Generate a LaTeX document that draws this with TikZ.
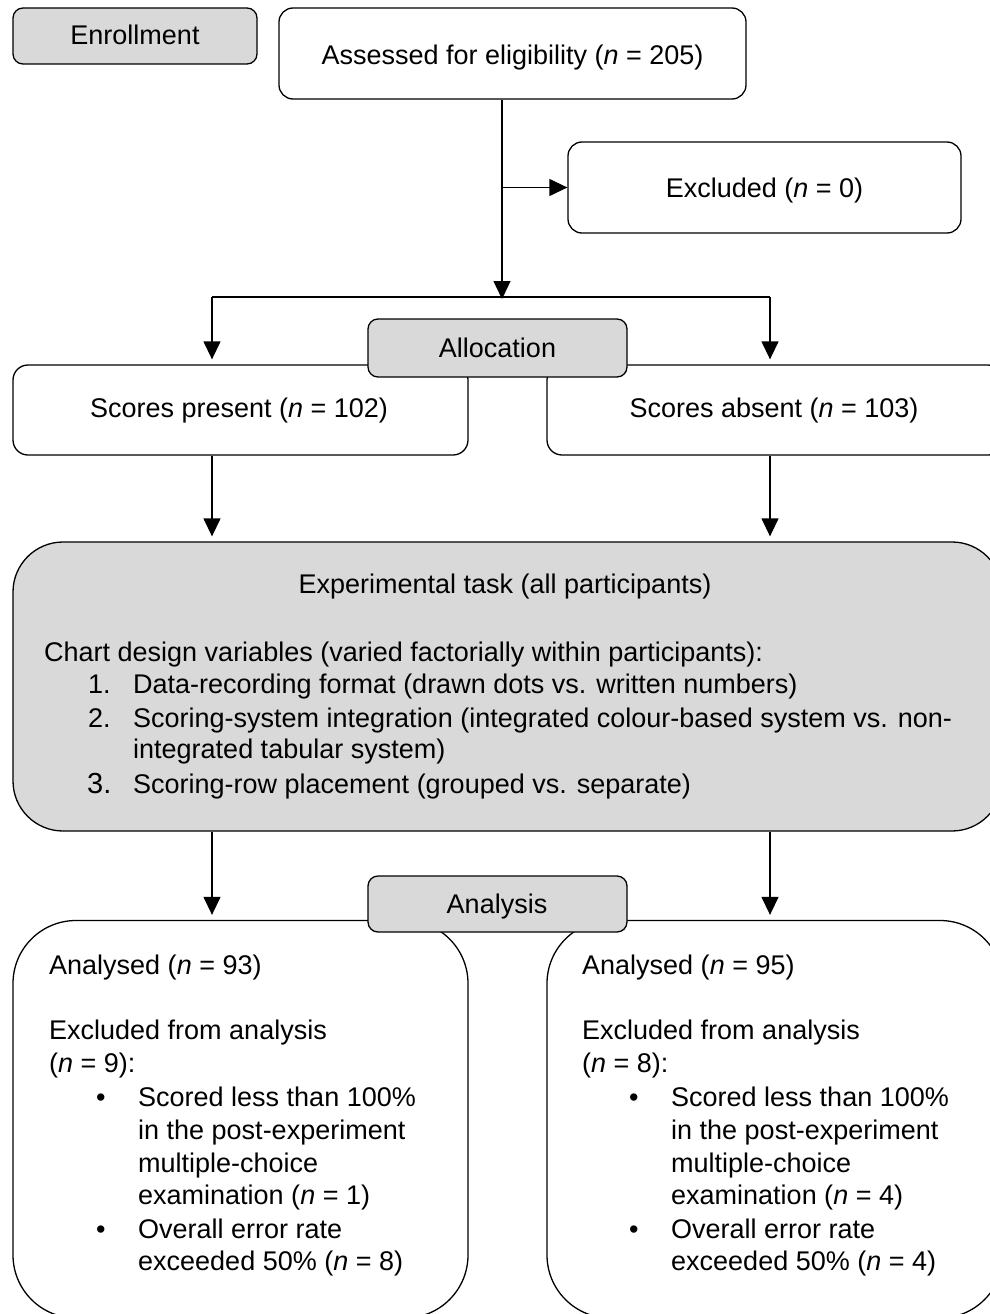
\documentclass[tikz,border=0pt]{standalone}
\usepackage{fontspec}
\setmainfont{Liberation Sans}
\usetikzlibrary{arrows.meta}
\definecolor{boxgray}{HTML}{D9D9D9}
\newcommand{\nvar}{\textit{n}}
\tikzset{
  box/.style={draw=black, line width=1.3pt, rounded corners=#1, inner sep=0pt, fill=white},
  graybox/.style={box=#1, fill=boxgray},
  txt/.style={font=\fontsize{27}{32}\selectfont, inner sep=0pt, anchor=base},
  ltxt/.style={txt, anchor=base west},
  conn/.style={line width=1.3pt},
  arr/.style={conn, -{Triangle[length=18pt,width=17pt]}},
  arrgap/.style={arr, shorten >=5pt}
}
\begin{document}
\begin{tikzpicture}[x=1pt,y=-1pt]
\clip (0,0) rectangle (990,1314);
% boxes
\node[graybox=10pt, minimum width=244pt, minimum height=56pt] (enroll) at (135,36) {};
\node[box=14pt, minimum width=467pt, minimum height=91pt] (assess) at (512.5,53.5) {};
\node[box=14pt, minimum width=393pt, minimum height=91pt] (excl) at (764.5,187.5) {};
\node[box=15pt, minimum width=455pt, minimum height=90pt] (present) at (240.5,410) {};
\node[box=15pt, minimum width=456pt, minimum height=90pt] (absent) at (775,410) {};
\node[graybox=10pt, minimum width=259pt, minimum height=58pt] (alloc) at (497.5,348) {};
\node[graybox=50pt, minimum width=989pt, minimum height=289pt] (task) at (507.5,686.5) {};
\node[box=63pt, minimum width=455pt, minimum height=397.5pt] (lbox) at (240.5,1119.25) {};
\node[box=63pt, minimum width=456pt, minimum height=397.5pt] (rbox) at (775,1119.25) {};
\node[graybox=10pt, minimum width=259pt, minimum height=56pt] (analysis) at (497.5,904) {};
% coordinates for connectors
\coordinate (hub) at (502,297);
\coordinate (lb) at (212,297);
\coordinate (rb) at (770,297);
\coordinate (exbr) at (502,187.5);
% connectors
\draw[arr] (assess.south -| hub) -- ([yshift=-2pt]hub);
\draw[arr] (exbr) -- (excl.west);
\draw[conn] (lb) -- (rb);
\draw[arrgap] (lb) -- (present.north -| lb);
\draw[arrgap] (rb) -- (absent.north -| rb);
\draw[arrgap] (present.south -| lb) -- (task.north -| lb);
\draw[arrgap] (absent.south -| rb) -- (task.north -| rb);
\draw[arrgap] (task.south -| lb) -- (lbox.north -| lb);
\draw[arrgap] (task.south -| rb) -- (rbox.north -| rb);
% texts
\node[txt] (t-enroll) at (135,45) {Enrollment};
\node[txt] (t-assess) at (512.5,65) {Assessed for eligibility (\nvar{} = 205)};
\node[txt] (t-excl) at (764.5,197) {Excluded (\nvar{} = 0)};
\node[txt] (t-alloc) at (497.5,357) {Allocation};
\node[txt] (t-present) at (239,417) {Scores present (\nvar{} = 102)};
\node[txt] (t-absent) at (774,417) {Scores absent (\nvar{} = 103)};
\node[txt] (t-task) at (505,593) {Experimental task (all participants)};
\node[ltxt] (t-chart) at (44,661) {Chart design variables (varied factorially within participants):};
\node[ltxt] (t-n1) at (88,693) {1.};
\node[ltxt] (t-i1) at (133,693) {Data-recording format (drawn dots vs. written numbers)};
\node[ltxt] (t-n2) at (88,727) {2.};
\node[ltxt] (t-i2) at (133,727) {Scoring-system integration (integrated colour-based system vs. non-};
\node[ltxt] (t-i2b) at (133,758) {integrated tabular system)};
\node[ltxt, font=\fontsize{29}{32}\selectfont] (t-n3) at (87,793) {3.};
\node[ltxt] (t-i3) at (133,793) {Scoring-row placement (grouped vs. separate)};
\node[txt] (t-analysis) at (497,913) {Analysis};
% left bottom texts
\node[ltxt] (l1) at (49,974) {Analysed (\nvar{} = 93)};
\node[ltxt] (l2) at (49,1039) {Excluded from analysis};
\node[ltxt] (l3) at (49,1072) {(\nvar{} = 9):};
\node[ltxt] (lb1) at (96,1106) {•};
\node[ltxt] (l4) at (138,1106) {Scored less than 100\%};
\node[ltxt] (l5) at (138,1139) {in the post-experiment};
\node[ltxt] (l6) at (138,1172) {multiple-choice};
\node[ltxt] (l7) at (138,1204) {examination (\nvar{} = 1)};
\node[ltxt] (lb2) at (96,1238) {•};
\node[ltxt] (l8) at (138,1238) {Overall error rate};
\node[ltxt] (l9) at (138,1270) {exceeded 50\% (\nvar{} = 8)};
% right bottom texts
\node[ltxt] (r1) at (582,974) {Analysed (\nvar{} = 95)};
\node[ltxt] (r2) at (582,1039) {Excluded from analysis};
\node[ltxt] (r3) at (582,1072) {(\nvar{} = 8):};
\node[ltxt] (rb1) at (629,1106) {•};
\node[ltxt] (r4) at (671,1106) {Scored less than 100\%};
\node[ltxt] (r5) at (671,1139) {in the post-experiment};
\node[ltxt] (r6) at (671,1172) {multiple-choice};
\node[ltxt] (r7) at (671,1204) {examination (\nvar{} = 4)};
\node[ltxt] (rb2) at (629,1238) {•};
\node[ltxt] (r8) at (671,1238) {Overall error rate};
\node[ltxt] (r9) at (671,1270) {exceeded 50\% (\nvar{} = 4)};
\end{tikzpicture}
\end{document}
